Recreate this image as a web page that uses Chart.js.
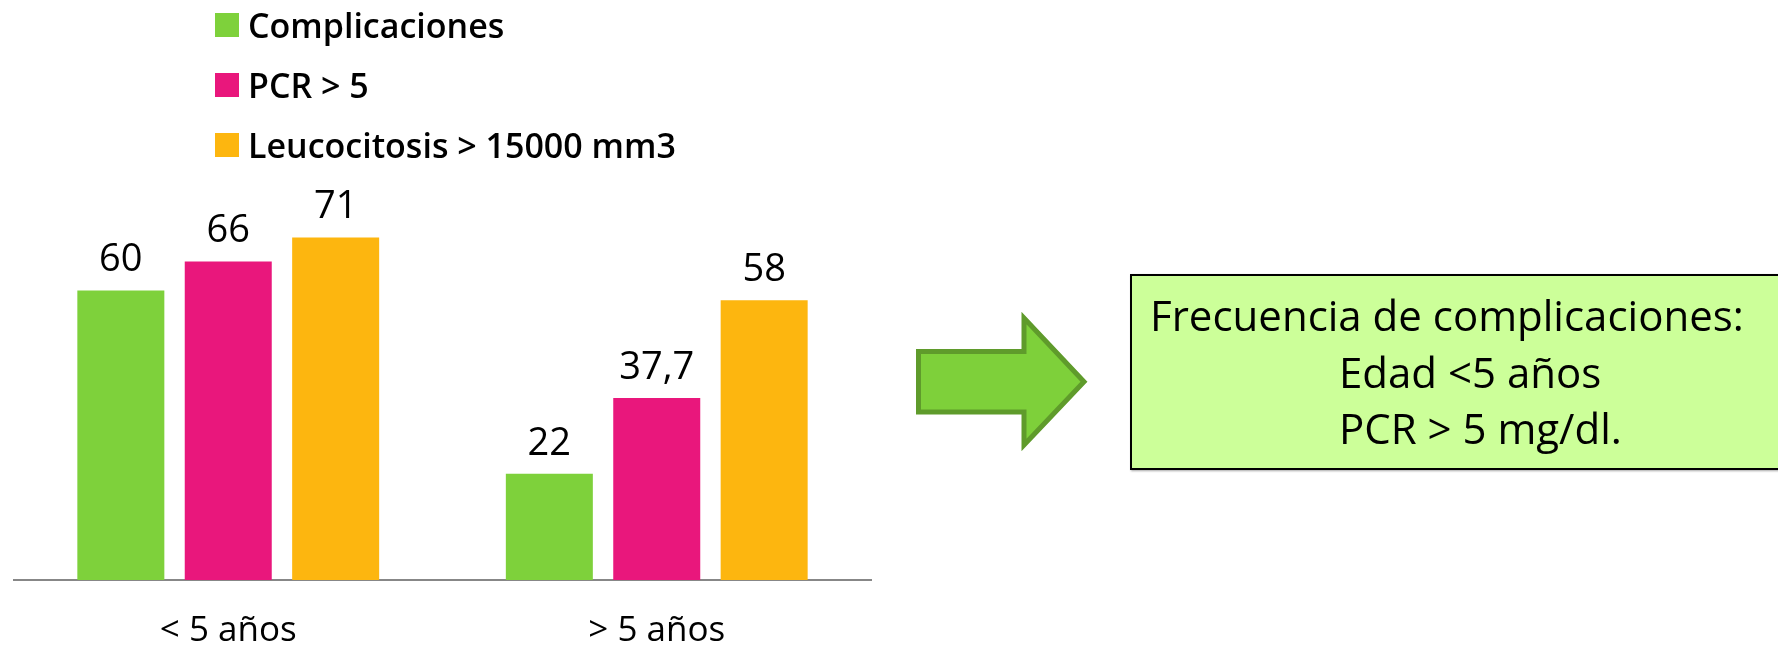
<!DOCTYPE html>
<html>
<head>
<meta charset="utf-8">
<script src="https://cdn.jsdelivr.net/npm/chart.js@4.4.1/dist/chart.umd.min.js"></script>
<style>
  html, body { margin: 0; padding: 0; background: #ffffff; overflow: hidden; }
  body { width: 1778px; height: 648px; position: relative; font-family: "Open Sans", sans-serif; }
  #wrap { position: absolute; left: 0; top: 0; width: 1778px; height: 648px; }
  #legend { position: absolute; left: 215px; top: 13px; }
  .lg-row { position: absolute; left: 0; height: 24px; white-space: nowrap; }
  .lg-box { position: absolute; left: 0; top: 0; width: 24px; height: 24px; }
  .lg-text { position: absolute; left: 33px; top: 0; font-size: 34px; font-weight: 600; line-height: 24px; color: #000; }
  #arrow { position: absolute; left: 900px; top: 300px; }
  #note { position: absolute; left: 1130px; top: 274px; width: 700px; height: 196px; box-sizing: border-box;
          background: #ccff99; border: 2px solid #000; box-shadow: 1px 1px 2px rgba(0,0,0,0.35); }
  .note-line { position: absolute; font-size: 42px; line-height: 58px; color: #000; white-space: nowrap; }
</style>
</head>
<body>
<div id="wrap"><canvas id="c" width="1778" height="648"></canvas></div>
<div id="legend"></div>
<svg id="arrow" width="200" height="160" viewBox="0 0 200 160">
  <polygon points="18.5,51.5 124,51.5 124,18 184,81.7 124,145 124,112 18.5,112"
           fill="#7ed03a" stroke="#5f9b2b" stroke-width="5" stroke-linejoin="miter"/>
</svg>
<div id="note">
  <div class="note-line" style="left:18px; top:10px;">Frecuencia de complicaciones:</div>
  <div class="note-line" style="left:207px; top:67px;">Edad &lt;5 años</div>
  <div class="note-line" style="left:207px; top:123px;">PCR &gt; 5 mg/dl.</div>
</div>
<script>
const categories = ["< 5 años", "> 5 años"];
const seriesNames = ["Complicaciones", "PCR > 5", "Leucocitosis > 15000 mm3"];
const complicaciones = [60, 22];
const pcr = [66, 37.7];
const leucocitosis = [71, 58];
const seriesColors = ["#7ed13b", "#e9177c", "#fdb60f"];

const seriesValues = [complicaciones, pcr, leucocitosis];

const labelPlugin = {
  id: 'valueLabels',
  afterDatasetsDraw(chart) {
    const ctx = chart.ctx;
    ctx.save();
    ctx.font = '500 38px "Open Sans"';
    ctx.fillStyle = '#000';
    ctx.textAlign = 'center';
    ctx.textBaseline = 'middle';
    chart.data.datasets.forEach((ds, di) => {
      const meta = chart.getDatasetMeta(di);
      meta.data.forEach((bar, i) => {
        const v = ds.data[i];
        const txt = String(v).replace('.', ',');
        ctx.fillText(txt, bar.x, bar.y - 30);
      });
    });
    ctx.restore();
  }
};

const chart = new Chart(document.getElementById('c'), {
  type: 'bar',
  data: {
    labels: categories,
    datasets: seriesNames.map((n, i) => ({
      label: n,
      data: seriesValues[i],
      backgroundColor: seriesColors[i],
      borderWidth: 0,
      categoryPercentage: 0.752,
      barPercentage: 0.81
    }))
  },
  options: {
    responsive: false,
    animation: false,
    devicePixelRatio: 1,
    layout: { padding: { left: 14, right: 907, top: 194, bottom: 0 } },
    plugins: { legend: { display: false }, tooltip: { enabled: false } },
    scales: {
      x: {
        grid: { display: false, drawTicks: false },
        border: { display: true, color: '#878787', width: 2 },
        ticks: { color: '#000', padding: 30, font: { family: 'Open Sans', size: 35 } },
        afterFit(scale) { scale.height = 68; }
      },
      y: {
        display: false,
        min: 0,
        max: 80
      }
    }
  },
  plugins: [labelPlugin]
});

// HTML legend built from chart datasets
const legendEl = document.getElementById('legend');
chart.data.datasets.forEach((ds, i) => {
  const row = document.createElement('div');
  row.className = 'lg-row';
  row.style.top = (i * 60) + 'px';
  const box = document.createElement('div');
  box.className = 'lg-box';
  box.style.background = ds.backgroundColor;
  const t = document.createElement('div');
  t.className = 'lg-text';
  t.textContent = ds.label;
  row.appendChild(box);
  row.appendChild(t);
  legendEl.appendChild(row);
});
</script>
</body>
</html>
